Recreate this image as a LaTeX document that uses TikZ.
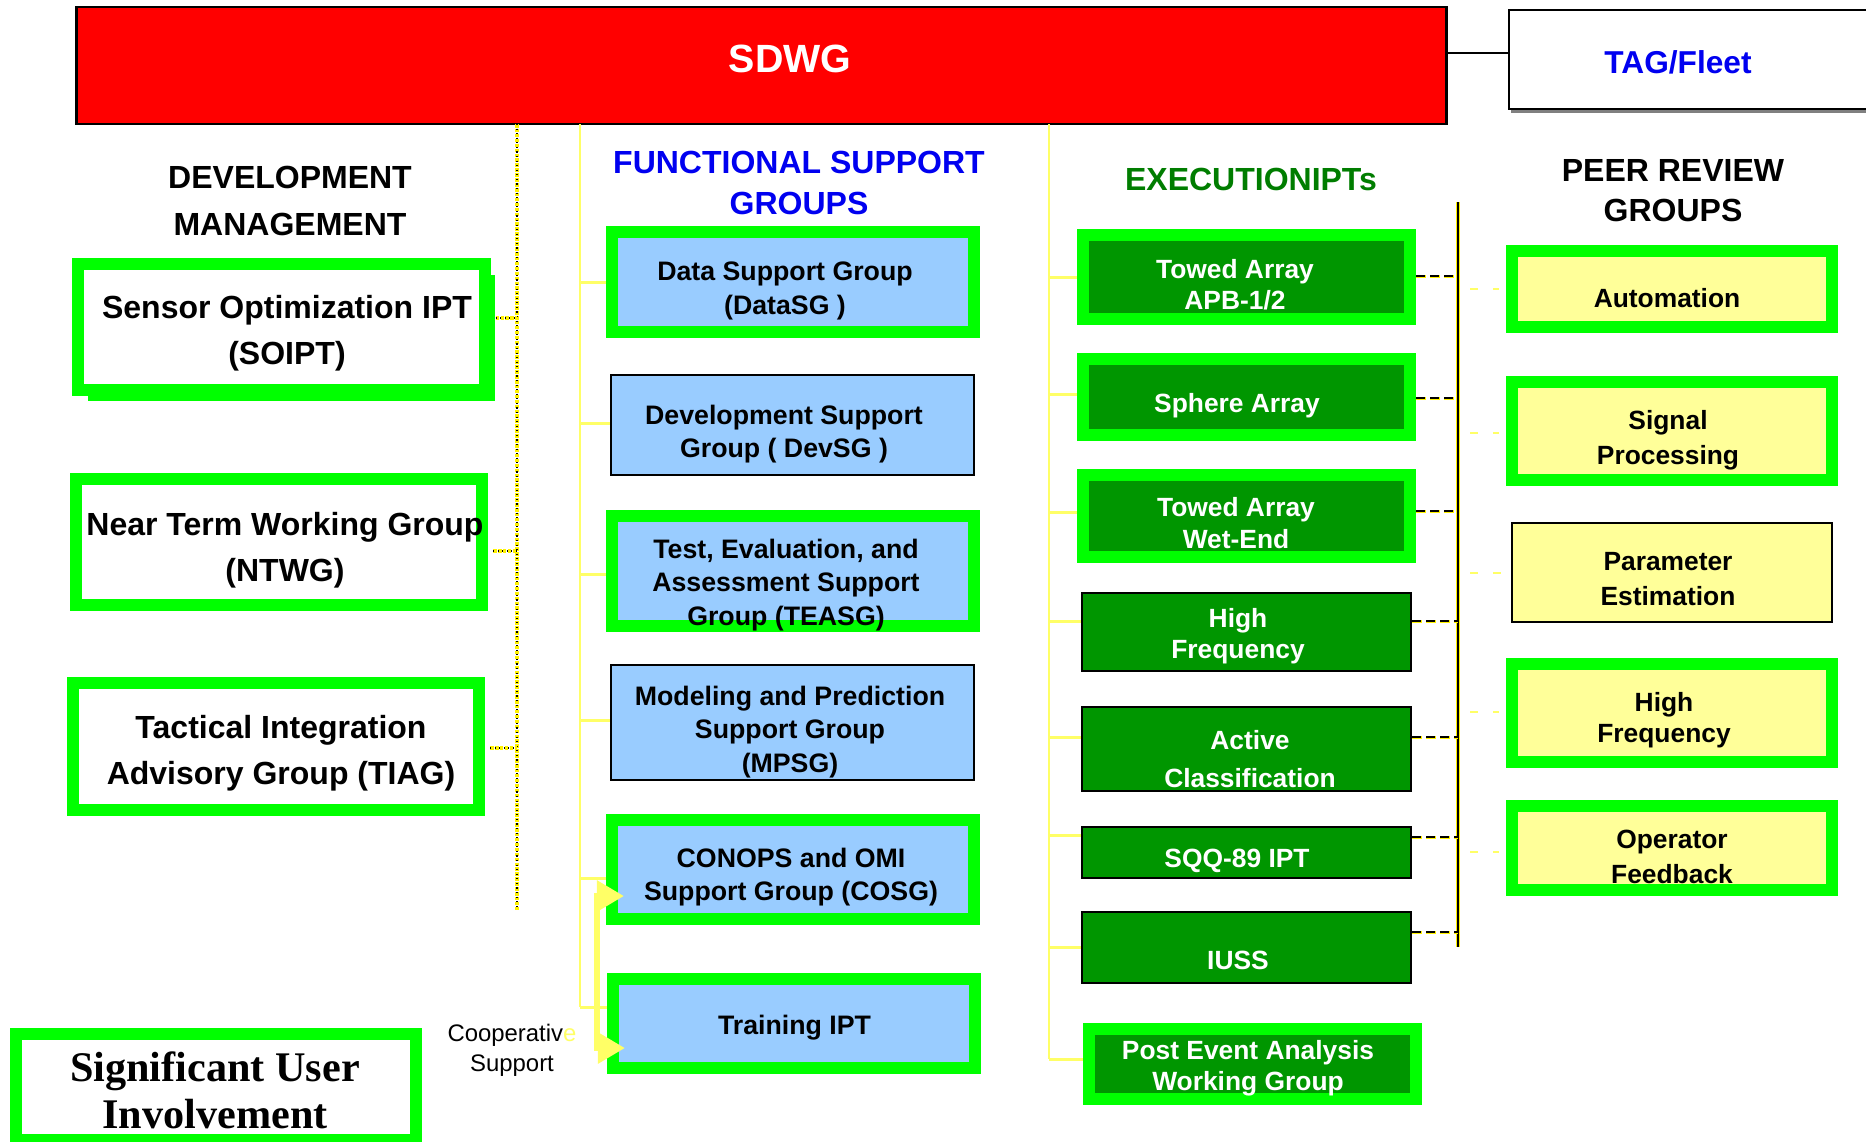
\documentclass[tikz,border=0pt]{standalone}
\usepackage{fontspec}
\setmainfont{Liberation Sans}
\newfontfamily\suifont{Liberation Serif}
\usetikzlibrary{arrows.meta,shadows}
\definecolor{grn}{RGB}{0,255,0}
\definecolor{fsblue}{RGB}{153,204,255}
\definecolor{exgreen}{RGB}{0,150,0}
\definecolor{hdgreen}{RGB}{0,125,0}
\definecolor{hdblue}{RGB}{0,0,240}
\definecolor{pryellow}{RGB}{255,255,153}
\definecolor{ylw}{RGB}{255,255,102}
\tikzset{sz/.style 2 args={minimum width=#1,minimum height=#2},
grpbox/.style={draw=grn,line width=0.12cm,inner sep=0pt},
thinbox/.style={draw=black,line width=0.02cm,inner sep=0pt},
dmtxt/.style={align=center,font=\fontsize{9.1}{13}\selectfont\bfseries},
fstxt/.style={align=center,font=\fontsize{7.6}{9.6}\selectfont\bfseries},
extxt/.style={align=center,text=white,font=\fontsize{7.5}{8.9}\selectfont\bfseries},
prtxt/.style={align=center,font=\fontsize{7.5}{9.8}\selectfont\bfseries},
hdtxt/.style={align=center,font=\fontsize{9.1}{13.6}\selectfont\bfseries},
spine/.style={draw=ylw,line width=0.025cm},
dmdot/.style={draw=black,line width=0.3pt,dash pattern=on 0.3pt off 1pt,
preaction={draw=yellow,line width=1.1pt,dash pattern=on 1pt off 0.4pt}},
prbar/.style={draw=black,line width=0.022cm,preaction={draw=yellow,line width=0.045cm}},
exlink/.style={draw=black,line width=0.012cm,dash pattern=on 0.09cm off 0.05cm,
preaction={draw=yellow,line width=0.03cm,dash pattern=on 0.1cm off 0.04cm}},
prdash/.style={draw=ylw,line width=0.02cm,dash pattern=on 0.08cm off 0.15cm,
shorten <=0.12cm,shorten >=0.07cm}}

\begin{document}
\begin{tikzpicture}[x=0.01cm,y=-0.01cm]
\useasboundingbox (0,0) rectangle (1866,1141);
\clip (0,0) rectangle (1866,1141);

% top row
\node[draw,line width=0.025cm,fill=red,inner sep=0pt,sz={13.69cm}{1.17cm}] (sdwg) at (761.5,65.5) {};
\node[font=\fontsize{11.2}{13}\selectfont\bfseries,text=white] (sdwglbl) at (790,59) {SDWG};
\node[thinbox,fill=white,sz={3.91cm}{0.99cm},
drop shadow={fill=gray,opacity=1,shadow xshift=0.02cm,shadow yshift=-0.04cm}] (tag) at (1704.5,59.5) {};
\node[font=\fontsize{9}{11}\selectfont\bfseries,text=hdblue] (taglbl) at (1678,62) {TAG/Fleet};
\draw[line width=0.02cm] (sdwg.east |- 0,53) -- (tag.west |- 0,53);

% column headings
\node[hdtxt] (dmhead) at (290,201) {DEVELOPMENT\\MANAGEMENT};
\node[hdtxt,text=hdblue,font=\fontsize{9.1}{11.6}\selectfont\bfseries] (fshead) at (799,183) {FUNCTIONAL SUPPORT\\GROUPS};
\node[hdtxt,text=hdgreen] (exhead) at (1251,179) {EXECUTIONIPTs};
\node[hdtxt,font=\fontsize{9.1}{11.4}\selectfont\bfseries] (prhead) at (1673,191) {PEER REVIEW\\GROUPS};

% development management
\node[grpbox,fill=white,sz={4.065cm}{1.26cm},
drop shadow={fill=grn,opacity=1,shadow xshift=0.105cm,shadow yshift=-0.11cm}] (soipt) at (281.25,327) {};
\node[dmtxt] (soiptlbl) at (287,333) {Sensor Optimization IPT\\(SOIPT)};
\node[grpbox,fill=white,sz={4.06cm}{1.26cm}] (ntwg) at (279,542) {};
\node[dmtxt] (ntwglbl) at (285,550) {Near Term Working Group\\(NTWG)};
\node[grpbox,fill=white,sz={4.06cm}{1.27cm}] (tiag) at (276,746.5) {};
\node[dmtxt] (tiaglbl) at (281,753) {Tactical Integration\\Advisory Group (TIAG)};

% functional support groups
\node[grpbox,fill=fsblue,sz={3.62cm}{1cm}] (datasg) at (793,282) {};
\node[fstxt] (datasglbl) at (785,291) {Data Support Group\\(DataSG )};
\node[thinbox,fill=fsblue,sz={3.63cm}{1cm}] (devsg) at (792.5,425) {};
\node[fstxt] (devsglbl) at (784,434) {Development Support\\Group ( DevSG )};
\node[grpbox,fill=fsblue,sz={3.62cm}{1.1cm}] (teasg) at (793,571) {};
\node[fstxt] (teasglbl) at (786,585) {Test, Evaluation, and\\Assessment Support\\Group (TEASG)};
\node[thinbox,fill=fsblue,sz={3.63cm}{1.15cm}] (mpsg) at (792.5,722.5) {};
\node[fstxt] (mpsglbl) at (790,732) {Modeling and Prediction\\Support Group\\(MPSG)};
\node[grpbox,fill=fsblue,sz={3.62cm}{0.99cm}] (cosg) at (793,869.5) {};
\node[fstxt] (cosglbl) at (791,877) {CONOPS and OMI\\Support Group (COSG)};
\node[grpbox,fill=fsblue,sz={3.62cm}{0.89cm}] (training) at (794,1023.5) {};
\node[fstxt] (traininglbl) at (794.5,1028) {Training IPT};

% execution IPTs
\node[grpbox,fill=exgreen,sz={3.27cm}{0.84cm}] (towed) at (1246.5,277) {};
\node[extxt] (towedlbl) at (1235,285) {Towed Array\\APB-1/2};
\node[grpbox,fill=exgreen,sz={3.27cm}{0.76cm}] (sphere) at (1246.5,397) {};
\node[extxt] (spherelbl) at (1237,406) {Sphere Array};
\node[grpbox,fill=exgreen,sz={3.27cm}{0.82cm}] (wetend) at (1246.5,516) {};
\node[extxt] (wetendlbl) at (1236,523) {Towed Array\\Wet-End};
\node[thinbox,fill=exgreen,sz={3.29cm}{0.78cm}] (hifreq) at (1246.5,632) {};
\node[extxt] (hifreqlbl) at (1238,636) {High\\Frequency};
\node[thinbox,fill=exgreen,sz={3.29cm}{0.84cm}] (active) at (1246.5,749) {};
\node[extxt,font=\fontsize{7.5}{10.8}\selectfont\bfseries] (activelbl) at (1250,759) {Active\\Classification};
\node[thinbox,fill=exgreen,sz={3.29cm}{0.51cm}] (sqq) at (1246.5,852.5) {};
\node[extxt] (sqqlbl) at (1237,861) {SQQ-89 IPT};
\node[thinbox,fill=exgreen,sz={3.29cm}{0.71cm}] (iuss) at (1246.5,947.5) {};
\node[extxt] (iusslbl) at (1238,960) {IUSS};
\node[grpbox,fill=exgreen,sz={3.265cm}{0.7cm}] (pea) at (1252.75,1064) {};
\node[extxt] (pealbl) at (1248,1068) {Post Event Analysis\\Working Group};

% peer review groups
\node[grpbox,fill=pryellow,sz={3.19cm}{0.76cm}] (auto) at (1672,289) {};
\node[prtxt] (autolbl) at (1667,298) {Automation};
\node[grpbox,fill=pryellow,sz={3.19cm}{0.98cm}] (signal) at (1672,431) {};
\node[prtxt] (signallbl) at (1668,440) {Signal\\Processing};
\node[thinbox,fill=pryellow,sz={3.2cm}{0.99cm}] (param) at (1672,572.5) {};
\node[prtxt] (paramlbl) at (1668,579) {Parameter\\Estimation};
\node[grpbox,fill=pryellow,sz={3.19cm}{0.975cm}] (peerhf) at (1672,713) {};
\node[prtxt,font=\fontsize{7.5}{8.9}\selectfont\bfseries] (peerhflbl) at (1664,720) {High\\Frequency};
\node[grpbox,fill=pryellow,sz={3.19cm}{0.84cm}] (oper) at (1672,848) {};
\node[prtxt] (operlbl) at (1672,857) {Operator\\Feedback};

% user involvement
\node[grpbox,fill=white,sz={4cm}{1.06cm}] (sui) at (216,1087) {};
\node[align=center,font=\suifont\fontsize{12}{13.4}\selectfont\bfseries] (suilbl) at (215,1090) {Significant User\\Involvement};
\node[align=center,font=\fontsize{6.8}{8.5}\selectfont] (coop) at (512,1050) {Cooperativ\textcolor{ylw}{e}\\Support};

% spines and branches
\coordinate (dmtop) at (517,124);
\coordinate (fstop) at (580,124);
\coordinate (extop) at (1049,124);
\coordinate (prtop) at (1458,202);
\draw[dmdot] (dmtop) -- (517,910);
\foreach \b/\y in {soipt/318,ntwg/551,tiag/748}
\draw[dmdot,shorten <=0.05cm] (\b.east |- 0,\y) -- (dmtop |- 0,\y);
\draw[spine] (fstop) -- (580,1007);
\foreach \b/\y in {datasg/282,devsg/423,teasg/574,mpsg/720,cosg/878,training/1007}
\draw[spine,line width=0.03cm] (fstop |- 0,\y) -- (\b.west |- 0,\y);
\draw[spine] (extop) -- (1049,1059);
\foreach \b/\y in {towed/277,sphere/394,wetend/512,hifreq/621,active/737,sqq/835,iuss/947,pea/1059}
\draw[spine,line width=0.03cm] (extop |- 0,\y) -- (\b.west |- 0,\y);
\draw[prbar] (prtop) -- (1458,947);
\foreach \b/\y in {towed/276,sphere/398,wetend/511,hifreq/621,active/737,sqq/837,iuss/932}
\draw[exlink] (\b.east |- 0,\y) -- (prtop |- 0,\y);
\foreach \b/\y in {auto/289,signal/433,param/573,peerhf/712,oper/852}
\draw[prdash] (prtop |- 0,\y) -- (\b.west |- 0,\y);

% cooperative support arrows
\draw[ylw,line width=0.06cm,shorten <=-0.18cm,shorten >=-0.18cm,
{Triangle[length=0.27cm,width=0.3cm]}-{Triangle[length=0.27cm,width=0.3cm]}]
(training.west |- 0,1048) -- ++(-10,0) |- (cosg.west |- 0,896);
\end{tikzpicture}
\end{document}
